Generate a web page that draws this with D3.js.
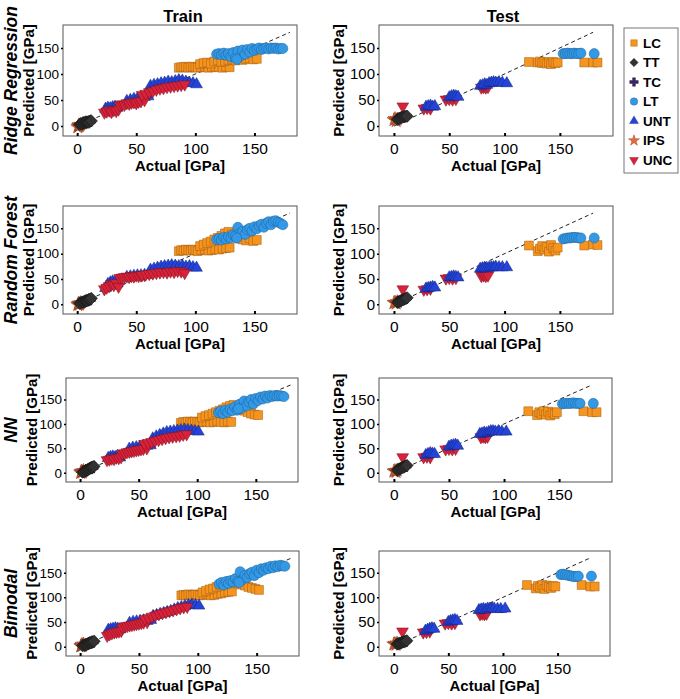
<!DOCTYPE html>
<html><head><meta charset="utf-8">
<script src="https://cdn.jsdelivr.net/npm/d3@7"></script>
<style>body{margin:0;background:#fff} svg text{font-family:"Liberation Sans",Arial,sans-serif}</style>
</head><body><svg id="c" width="680" height="699"></svg>
<script>
const categories = ["LC","TT","TC","LT","UNT","IPS","UNC"];
const models = ["Ridge Regression","Random Forest","NN","Bimodal"];
const columns = ["Train","Test"];
const xTicks = [0,50,100,150];
const yTicks = [0,50,100,150];
const diagonal = [0,180];

// Actual values (shared by all models)
const trainActual = {
  LC: [86,88,90,92,94,96,98,100,102,105,108,111,114,117,120,123,126,129, 104,107,110,113,116,119,122,125,128,131,134,137,140,143,146,149,152],
  TT: [2,3,4,5,5,6,7,7,8,8,9,10,10,11,12],
  TC: [4,6,9,11],
  LT: [118,120,122,124,126,128,130,132,134,136,138,140,142,144,146,148,150,152,154,156,158,160,162,164,166,168,170,172,174,135],
  UNT: [24,26,28,30,32,34, 42,45,48,51,54,57,60, 62,65,68,71,74,77,80,83,86,89,92,95,98,101],
  IPS: [0.5,1,1.5,2,3],
  UNC: [23,25,27,29,31,33,35, 36,38,40,42,44,46,48,50,52,54,57, 55,58,61,64,67,70,73,76,79,82,85,88,91]
};
const testActual = {
  LC: [122,130,132,134,136,138,140,142,144,146,148,172,180,184],
  TT: [3,4,5,6,7,8,9,10,11,12],
  TC: [5,8,11],
  LT: [153,155,157,159,161,163,165,167,169,181],
  UNT: [29,31,33,35,37, 50,52,54,56,58, 78,80,82,84,86,88,90,92,95,98,102],
  IPS: [0,1,2,3],
  UNC: [8, 27,30,33, 47,50,53,56, 79,81,83,85]
};

// Predicted values per model
const ridgeTrain = {
  LC: [112,113,113,114,112,113,114,113,112,113,114,112,113,114,113,112,114,113, 119,121,122,120,124,126,123,125,127,128,126,129,127,129,130,128,129],
  TT: [3,4,4,5,7,6,7,8,6,8,8,9,7,10,10],
  TC: [5,6,8,9],
  LT: [138,139,137,140,136,139,133,141,131,144,134,146,138,147,142,149,145,148,150,147,149,150,148,150,149,150,148,149,149,128],
  UNT: [33,35,34,36,37,35, 48,50,52,53,55,56,57, 77,79,80,82,83,85,84,86,88,87,85,83,82,80],
  IPS: [-2,0,2,1,3],
  UNC: [26,28,30,27,31,29,32, 40,42,41,44,43,45,46,44,47,48,50, 60,62,65,67,70,72,73,75,76,77,78,79,80]
};
const ridgeTest = {
  LC: [123,122,124,121,123,120,122,119,123,121,122,122,122,122],
  TT: [13,14,15,16,17,17,18,18,19,19],
  TC: [15,17,19],
  LT: [139,139,140,139,139,140,139,139,140,139],
  UNT: [37,38,39,37,38, 55,57,58,57,56, 77,78,80,79,82,83,84,83,84,83,82],
  IPS: [12,14,10,13],
  UNC: [38, 34,35,34, 51,52,51,52, 74,75,74,75]
};
const rfTrain = {
  LC: [105,107,106,108,107,106,108,107,105,107,108,106,107,109,108,110,111,112, 115,118,121,124,128,131,135,140,143,138,133,130,128,126,130,125,127],
  TT: [2,3,4,4,5,6,6,7,7,8,8,9,10,10,12],
  TC: [4,5,7,9],
  LT: [128,130,127,132,129,133,131,137,135,152,140,144,138,147,150,145,153,149,155,158,152,160,163,157,164,165,162,160,157,131],
  UNT: [32,40,43,45,44,41, 54,55,56,57,57,58,58, 68,70,72,74,75,76,77,76,75,76,74,75,73,72],
  IPS: [-1,1,2,0,3],
  UNC: [30,33,36,40,38,42,35, 52,53,54,55,54,56,55,57,56,57,58, 58,59,60,61,62,63,64,63,65,64,66,65,62]
};
const rfTest = {
  LC: [116,105,110,115,108,113,104,117,111,106,112,116,118,117],
  TT: [4,5,6,7,8,9,10,11,12,13],
  TC: [6,9,12],
  LT: [129,130,131,131,132,132,132,131,131,131],
  UNT: [31,32,33,34,33, 53,54,55,54,53, 70,71,72,71,72,73,73,74,73,73,73],
  IPS: [3,4,2,5],
  UNC: [30, 29,30,31, 51,52,51,52, 56,57,56,57]
};
const nnTrain = {
  LC: [102,104,103,105,104,103,105,104,103,104,105,103,104,106,104,103,105,104, 113,116,118,121,124,127,130,134,137,139,135,131,127,124,121,119,118],
  TT: [1,2,3,4,5,6,7,7,8,9,10,10,11,12,13],
  TC: [4,6,8,10],
  LT: [123,126,121,128,124,130,127,135,128,140,132,147,137,145,150,141,152,148,155,151,157,153,158,156,158,157,158,157,156,131],
  UNT: [30,32,33,32,34,31, 49,51,52,53,54,55,56, 70,74,77,80,83,84,85,86,87,88,87,86,85,84],
  IPS: [0,2,3,1,4],
  UNC: [26,27,29,28,31,30,32, 39,40,42,43,44,45,46,47,48,49,50, 59,61,63,65,67,69,71,73,74,75,76,78,79]
};
const nnTest = {
  LC: [126,118,124,121,126,119,125,117,123,120,124,126,124,124],
  TT: [5,7,8,9,10,11,12,13,14,15],
  TC: [7,10,13],
  LT: [141,142,142,142,142,143,142,142,142,142],
  UNT: [36,38,40,39,38, 53,55,56,57,55, 79,80,82,81,83,85,85,84,85,84,84],
  IPS: [3,4,2,5],
  UNC: [32, 32,33,32, 48,49,48,49, 73,74,73,74]
};
const bimodalTrain = {
  LC: [104,105,104,106,105,104,106,105,104,105,106,104,105,107,108,110,111,112, 110,113,116,118,121,124,127,130,133,131,128,126,124,121,119,117,115],
  TT: [2,3,3,4,5,5,6,7,7,8,8,9,10,10,11],
  TC: [4,5,7,9],
  LT: [127,130,125,132,128,134,131,138,133,152,136,145,140,148,151,144,155,150,158,155,160,158,163,160,164,162,165,164,163,130],
  UNT: [34,35,36,37,36,35, 48,50,51,52,53,52,54, 62,64,66,68,70,72,75,78,80,82,84,85,84,83],
  IPS: [1,2,4,2,5],
  UNC: [22,25,27,29,30,31,32, 39,41,42,43,44,45,46,47,48,49,50, 56,58,61,63,66,68,70,72,74,76,78,80,81]
};
const bimodalTest = {
  LC: [125,118,123,120,125,117,124,121,119,123,122,125,122,122],
  TT: [5,6,7,7,8,9,10,10,11,12],
  TC: [6,9,11],
  LT: [146,147,146,145,144,143,142,142,143,143],
  UNT: [32,34,36,37,36, 50,52,53,54,52, 74,75,76,75,77,77,78,77,76,76,77],
  IPS: [5,6,4,7],
  UNC: [31, 29,30,31, 47,48,47,48, 66,67,66,67]
};
const predictions = [[ridgeTrain, ridgeTest],[rfTrain, rfTest],[nnTrain, nnTest],[bimodalTrain, bimodalTest]];
const actuals = [trainActual, testActual];

// ---- layout & style ----
const rowTop = [25,206,378,551], rowBot = [136,314,482,656];
const colLeft = [[63,63,66,66],[379,379,379,379]];
const colRight = [[297,297,298,299],[613,613,612,610]];
const xDomains = [[-12,186],[-13.5,198]];
const yDomain = [-19,194];
const colors = {LC:"#F7941E",TT:"#333333",TC:"#3D2466",LT:"#3399E6",UNT:"#2343DA",IPS:"#E86A3A",UNC:"#D7223A"};
const strokes = {LC:"#9a5a10",TT:"#111111",TC:"#1c0f33",LT:"#1d5f99",UNT:"#13247a",IPS:"#8a3515",UNC:"#7a1020"};
const shapes = {LC:d3.symbolSquare,TT:d3.symbolDiamond2,TC:d3.symbolCross,LT:d3.symbolCircle,UNT:d3.symbolTriangle,IPS:d3.symbolStar,UNC:d3.symbolTriangle};
const sizes = {LC:78,TT:95,TC:60,LT:80,UNT:60,IPS:60,UNC:60};
const drawOrder = [["IPS","LC","LT","UNT","UNC","TC","TT"],["IPS","LC","LT","UNC","UNT","TC","TT"]];

const svg = d3.select("#c");

models.forEach((m, r) => {
  columns.forEach((col, c) => {
    const L = colLeft[c][r], R = colRight[c][r], T = rowTop[r], B = rowBot[r];
    const x = d3.scaleLinear().domain(xDomains[c]).range([L, R]);
    const y = d3.scaleLinear().domain(yDomain).range([B, T]);
    const g = svg.append("g");

    g.append("rect").attr("x", L).attr("y", T).attr("width", R - L).attr("height", B - T)
      .attr("fill", "#fff").attr("stroke", "#555").attr("stroke-width", 1);

    g.append("line").attr("x1", x(diagonal[0])).attr("y1", y(diagonal[0]))
      .attr("x2", x(diagonal[1])).attr("y2", y(diagonal[1]))
      .attr("stroke", "#222").attr("stroke-width", 1).attr("stroke-dasharray", "4,3");

    const act = actuals[c], pred = predictions[r][c];
    drawOrder[c].forEach(cat => {
      const pts = act[cat].map((a, i) => [a, pred[cat][i]]);
      g.append("g").selectAll("path").data(pts).join("path")
        .attr("d", d3.symbol(shapes[cat], sizes[cat]))
        .attr("transform", d => `translate(${x(d[0])},${y(d[1])})` + (cat === "UNC" ? " rotate(180)" : ""))
        .attr("fill", colors[cat]).attr("stroke", strokes[cat]).attr("stroke-width", 0.5);
    });

    const ax = g.append("g").attr("transform", `translate(0,${B})`)
      .call(d3.axisBottom(x).tickValues(xTicks).tickSize(-3).tickPadding(7).tickSizeOuter(0));
    ax.select(".domain").remove();
    ax.selectAll("line").attr("stroke", "#000").attr("stroke-width", 2);
    ax.selectAll("text").attr("font-size", 15.5).attr("font-family", "Liberation Sans, Arial, sans-serif").attr("fill", "#000");

    const ay = g.append("g").attr("transform", `translate(${L},0)`)
      .call(d3.axisLeft(y).tickValues(yTicks).tickSize(2).tickPadding(2).tickSizeOuter(0));
    ay.select(".domain").remove();
    ay.selectAll("line").attr("stroke", "#000").attr("stroke-width", 1.5);
    ay.selectAll("text").attr("font-size", c === 0 ? 13.5 : 15).attr("font-family", "Liberation Sans, Arial, sans-serif").attr("fill", "#000");

    g.append("text").attr("x", (L + R) / 2).attr("y", B + 35).attr("text-anchor", "middle")
      .attr("font-size", 15).attr("font-weight", "bold").text("Actual [GPa]");

    g.append("text").attr("transform", `translate(${L - (c === 0 ? 29 : 35)},${(T + B) / 2}) rotate(-90)`)
      .attr("text-anchor", "middle").attr("font-size", 15).attr("font-weight", "bold").text("Predicted [GPa]");

    if (r === 0) {
      g.append("text").attr("x", c === 0 ? 183 : 503).attr("y", 22).attr("text-anchor", "middle")
        .attr("font-size", 16.5).attr("font-weight", "bold").text(col);
    }
    if (c === 0) {
      g.append("text").attr("transform", `translate(16.5,${(T + B) / 2}) rotate(-90)`)
        .attr("text-anchor", "middle").attr("font-size", 17.5).attr("font-weight", "bold")
        .attr("font-style", "italic").text(m);
    }
  });
});

// legend
const lg = svg.append("g");
lg.append("rect").attr("x", 624).attr("y", 28).attr("width", 54).attr("height", 145)
  .attr("fill", "#fff").attr("stroke", "#777").attr("stroke-width", 1);
const legendSizes = {LC:42,TT:44,TC:40,LT:44,UNT:34,IPS:38,UNC:34};
categories.forEach((cat, i) => {
  const cy = 43 + i * 19.5;
  lg.append("path").attr("d", d3.symbol(shapes[cat], legendSizes[cat]))
    .attr("transform", `translate(634,${cy})` + (cat === "UNC" ? " rotate(180)" : ""))
    .attr("fill", colors[cat]).attr("stroke", strokes[cat]).attr("stroke-width", 0.4);
  lg.append("text").attr("x", 643).attr("y", cy).attr("dy", "0.36em")
    .attr("font-size", 13.5).attr("font-weight", "bold").text(cat);
});
</script></body></html>
